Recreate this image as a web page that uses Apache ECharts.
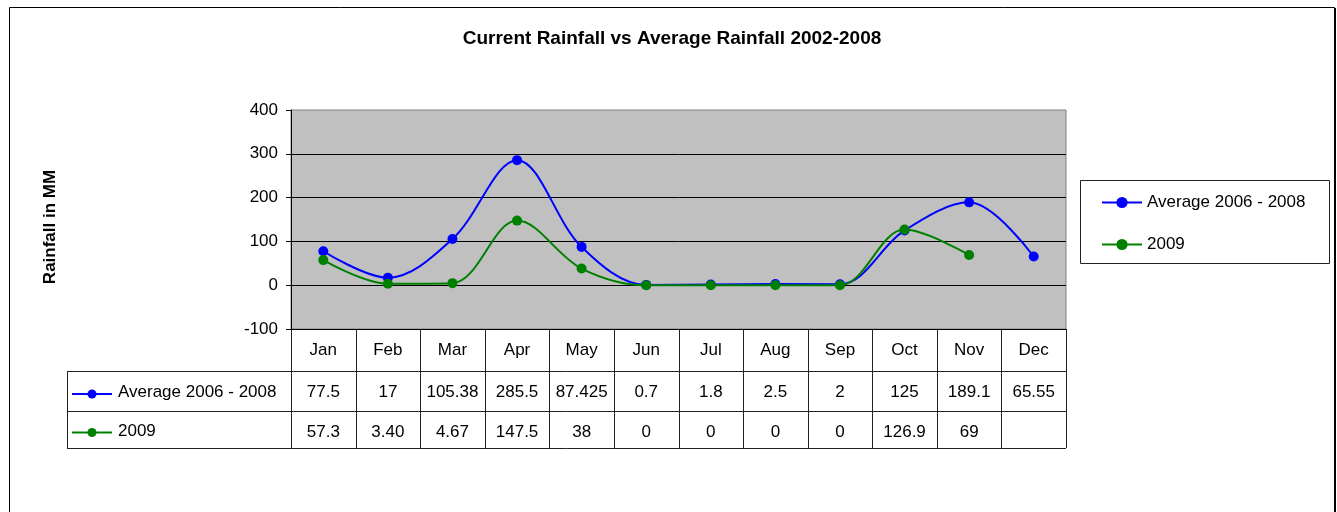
<!DOCTYPE html>
<html>
<head>
<meta charset="utf-8">
<script src="https://cdn.jsdelivr.net/npm/echarts@6/dist/echarts.min.js"></script>
<style>
  html, body { margin: 0; padding: 0; background: #fff; }
  #chart { width: 1337px; height: 512px; }
</style>
</head>
<body>
<div id="chart"></div>
<script>
// Chart data (table text as shown in the sheet; series values are parsed from it)
const months = ['Jan', 'Feb', 'Mar', 'Apr', 'May', 'Jun', 'Jul', 'Aug', 'Sep', 'Oct', 'Nov', 'Dec'];
const avgName = 'Average 2006 - 2008';
const avgText = ['77.5', '17', '105.38', '285.5', '87.425', '0.7', '1.8', '2.5', '2', '125', '189.1', '65.55'];
const curName = '2009';
const curText = ['57.3', '3.40', '4.67', '147.5', '38', '0', '0', '0', '0', '126.9', '69', ''];
const yMin = -100, yMax = 400, yStep = 100;

const avgValues = avgText.map(t => t === '' ? null : Number(t));
const curValues = curText.map(t => t === '' ? null : Number(t));

// Layout
const FONT = '"Liberation Sans", Arial, sans-serif';
const plot = { left: 291, top: 110, width: 775, height: 219 };
const rowH = [42, 40, 37];          // header, avg row, 2009 row
const tableLeft = 67;
const blue = '#0000FF', green = '#008000';

const chart = echarts.init(document.getElementById('chart'));

function valueAxis(data, offset) {
    return {
        type: 'category',
        data: data,
        position: 'bottom',
        offset: offset,
        boundaryGap: true,
        axisLine: { show: false },
        axisTick: { show: false },
        splitLine: { show: false },
        axisLabel: { interval: 0, margin: 13, fontSize: 17, color: '#000', fontFamily: FONT }
    };
}

// table borders, row labels, frames
function tableGraphics() {
    const els = [];
    const bottom = plot.top + plot.height;
    const colW = plot.width / months.length;
    const y1 = bottom + rowH[0];
    const y2 = y1 + rowH[1];
    const y3 = y2 + rowH[2];
    const right = plot.left + plot.width;
    const stroke = { stroke: '#222', lineWidth: 1 };
    for (let i = 0; i <= months.length; i++) {
        const x = Math.round(plot.left + i * colW) + 0.5;
        els.push({ type: 'line', shape: { x1: x, y1: bottom, x2: x, y2: y3 }, style: stroke, silent: true });
    }
    [y1, y2, y3].forEach(y => {
        els.push({ type: 'line', shape: { x1: tableLeft, y1: y + 0.5, x2: right, y2: y + 0.5 }, style: stroke, silent: true });
    });
    els.push({ type: 'line', shape: { x1: tableLeft + 0.5, y1: y1, x2: tableLeft + 0.5, y2: y3 }, style: stroke, silent: true });

    [[avgName, blue, (y1 + y2) / 2], [curName, green, (y2 + y3) / 2]].forEach(([name, color, cy]) => {
        const sy = cy + 3;
        els.push({ type: 'line', shape: { x1: 72, y1: sy, x2: 112, y2: sy }, style: { stroke: color, lineWidth: 2 }, silent: true });
        els.push({ type: 'circle', shape: { cx: 92, cy: sy, r: 4.5 }, style: { fill: color }, silent: true });
        els.push({ type: 'text', x: 118, y: cy + 1.5, style: { text: name, fontSize: 17, fontFamily: FONT, fill: '#000', verticalAlign: 'middle' }, silent: true });
    });

    // y axis title
    els.push({
        type: 'text', x: 50, y: 227, rotation: Math.PI / 2,
        style: { text: 'Rainfall in MM', fontSize: 17, fontWeight: 'bold', fontFamily: FONT, fill: '#000', align: 'center', verticalAlign: 'middle' },
        silent: true
    });

    // legend frame
    els.push({ type: 'rect', shape: { x: 1080.5, y: 180.5, width: 249, height: 83 }, style: { fill: 'none', stroke: '#222', lineWidth: 1 }, silent: true });
    // chart frame
    els.push({ type: 'rect', shape: { x: 9.5, y: 7.5, width: 1325, height: 600 }, style: { fill: 'none', stroke: '#000', lineWidth: 1 }, silent: true });
    els.push({ type: 'line', shape: { x1: 1335.5, y1: 8, x2: 1335.5, y2: 512 }, style: { stroke: '#000', lineWidth: 1 }, silent: true });
    return els;
}

const option = {
    backgroundColor: '#fff',
    animation: false,
    title: {
        text: 'Current Rainfall vs Average Rainfall 2002-2008',
        left: 672,
        textAlign: 'center',
        top: 29,
        padding: 0,
        textStyle: { fontSize: 19, fontWeight: 'bold', color: '#000', fontFamily: FONT }
    },
    legend: {
        orient: 'vertical',
        left: 1101,
        top: 194,
        padding: 0,
        itemWidth: 40,
        itemHeight: 14,
        itemGap: 25,
        textStyle: { fontSize: 17, color: '#000', fontFamily: FONT },
        data: [avgName, curName]
    },
    grid: {
        left: plot.left, top: plot.top, width: plot.width, height: plot.height,
        show: true, backgroundColor: '#C0C0C0', borderColor: '#808080', borderWidth: 1
    },
    xAxis: [
        {
            type: 'category',
            data: months,
            boundaryGap: true,
            axisLine: { show: true, onZero: false, lineStyle: { color: '#000', width: 1 } },
            axisTick: { show: false },
            splitLine: { show: false },
            axisLabel: { interval: 0, margin: 13, fontSize: 17, color: '#000', fontFamily: FONT }
        },
        valueAxis(avgText, rowH[0]),
        valueAxis(curText, rowH[0] + rowH[1])
    ],
    yAxis: {
        type: 'value',
        min: yMin,
        max: yMax,
        interval: yStep,
        axisLine: { show: true, lineStyle: { color: '#000', width: 1 } },
        axisTick: { show: true, length: 5, lineStyle: { color: '#000' } },
        axisLabel: { margin: 13, fontSize: 17, color: '#000', fontFamily: FONT },
        splitLine: { show: true, showMinLine: false, showMaxLine: false, lineStyle: { color: '#000', width: 1 } }
    },
    series: [
        {
            name: avgName,
            type: 'line',
            data: avgValues,
            smooth: 0.35,
            symbol: 'circle',
            symbolSize: 10,
            color: blue,
            lineStyle: { width: 2, color: blue },
            z: 3
        },
        {
            name: curName,
            type: 'line',
            data: curValues,
            smooth: 0.35,
            symbol: 'circle',
            symbolSize: 10,
            color: green,
            lineStyle: { width: 2, color: green },
            z: 4
        }
    ],
    graphic: tableGraphics()
};

chart.setOption(option);
</script>
</body>
</html>
